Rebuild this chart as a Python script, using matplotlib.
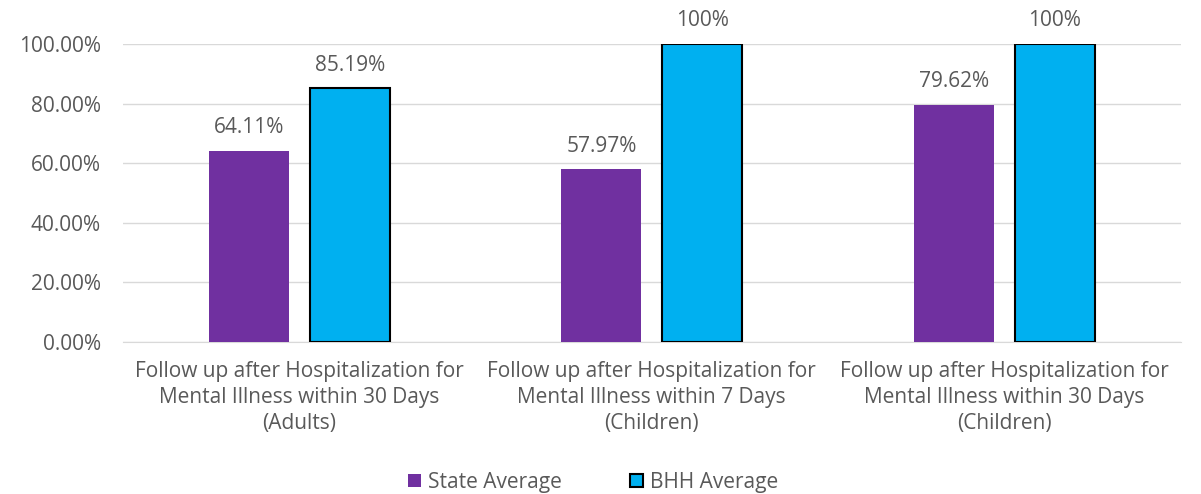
import numpy as np
import matplotlib.pyplot as plt
from matplotlib.ticker import FuncFormatter

categories = ['Follow up after Hospitalization for\nMental Illness within 30 Days\n(Adults)',
              'Follow up after Hospitalization for\nMental Illness within 7 Days\n(Children)',
              'Follow up after Hospitalization for\nMental Illness within 30 Days\n(Children)']
state_avg = [64.11, 57.97, 79.62]
bhh_avg = [85.19, 100, 100]
state_labels = ['64.11%', '57.97%', '79.62%']
bhh_labels = ['85.19%', '100%', '100%']

plt.rcParams['font.family'] = ['Open Sans', 'DejaVu Sans']
text_col = '#595959'
fs = 15

fig = plt.figure(figsize=(12.01, 4.94), dpi=100)
ax = fig.add_axes([0.1024, 0.3077, 0.8806, 0.6033])

x = np.arange(len(categories))
w = 0.227
off = 0.143
b1 = ax.bar(x - off, state_avg, w, color='#7030A0', label='State Average', zorder=3)
b2 = ax.bar(x + off, bhh_avg, w, color='#00B0F0', edgecolor='black', linewidth=1.5,
            label='BHH Average', zorder=3)

for rect, lab in zip(b1, state_labels):
    ax.annotate(lab, (rect.get_x() + rect.get_width() / 2, rect.get_height()),
                xytext=(0, 9), textcoords='offset points', ha='center', va='bottom',
                fontsize=fs, color=text_col)
for rect, lab in zip(b2, bhh_labels):
    ax.annotate(lab, (rect.get_x() + rect.get_width() / 2, rect.get_height()),
                xytext=(0, 9), textcoords='offset points', ha='center', va='bottom',
                fontsize=fs, color=text_col, annotation_clip=False)

ax.set_xlim(-0.5, 2.5)
ax.set_ylim(0, 100)
ax.set_yticks(np.arange(0, 101, 20))
ax.yaxis.set_major_formatter(FuncFormatter(lambda v, p: f'{v:.2f}%'))
ax.set_xticks(x)
ax.set_xticklabels(categories, fontsize=fs, color=text_col, linespacing=1.3)
ax.tick_params(axis='y', labelsize=fs, labelcolor=text_col, length=0, pad=16)
ax.tick_params(axis='x', length=0, pad=14)
ax.grid(axis='y', color='#D9D9D9', linewidth=1, zorder=0)
for s in ['top', 'right', 'left']:
    ax.spines[s].set_visible(False)
ax.spines['bottom'].set_color('#D9D9D9')

leg = fig.legend(loc='lower center', bbox_to_anchor=(0.494, -0.035), ncol=2, frameon=False,
                 fontsize=fs, handlelength=0.6, handleheight=0.6, handletextpad=0.35,
                 columnspacing=3.3)
for t in leg.get_texts():
    t.set_color(text_col)

fig.savefig('out.png', dpi=100)
